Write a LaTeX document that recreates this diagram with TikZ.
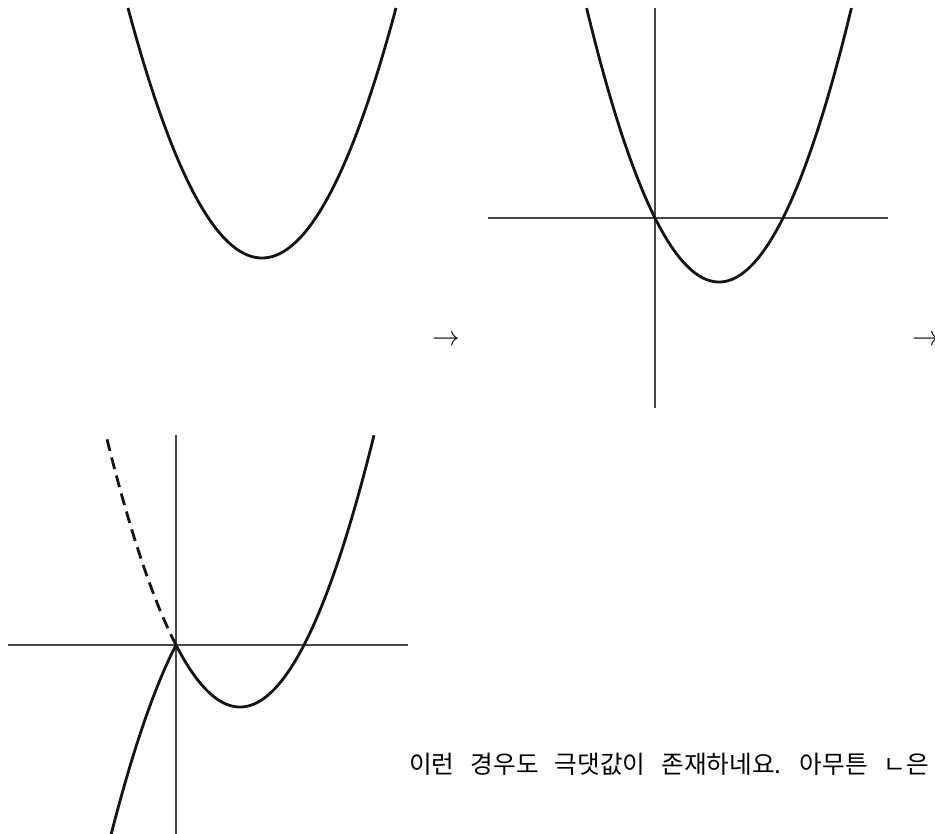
\documentclass[tikz,border=0pt]{standalone}
\usepackage{fontspec}
\newfontfamily\krfont{Noto Sans CJK KR}
\newcommand\widespaces{\spaceskip=12pt\relax}
\begin{document}
\begin{tikzpicture}[x=0.75pt,y=-0.75pt,
  curve/.style={line width=2.1pt,color=black!92},
  axis/.style={line width=1.8pt,color=black!72},
  dashcurve/.style={curve,dash pattern=on 9pt off 5pt},
  arrowsym/.style={inner sep=0pt,font=\fontsize{20}{24}\selectfont},
  caption/.style={inner sep=0pt,anchor=west,font=\krfont\fontsize{18.5}{22}\selectfont}]
\useasboundingbox[fill=white] (0,0) rectangle (935,834);
% panel 1
\draw[curve] plot[domain=128:396,samples=120] (\x,{258-139.23*((\x-262)/100)^2});
% panel 2
\draw[axis] (655,8) -- (655,408);
\draw[axis] (488,218) -- (888,218);
\draw[curve] plot[domain=586.6:851.4,samples=140] (\x,{282-156.25*((\x-719)/100)^2});
% arrows
\node[arrowsym] (arrA) at (446,340) {$\rightarrow$};
\node[arrowsym] (arrB) at (926,340) {$\rightarrow$};
% panel 3
\draw[axis] (176,435) -- (176,834);
\draw[axis] (8,645) -- (408,645);
\draw[curve] plot[domain=176:374,samples=120] (\x,{707-151.37*((\x-240)/100)^2});
\draw[dashcurve] plot[domain=176:106,samples=60] (\x,{707-151.37*((\x-240)/100)^2});
\draw[curve] plot[domain=111.2:176,samples=80] (\x,{583+151.37*((\x-240)/100)^2});
% text
\node[caption] (txt) at (409,764) {\widespaces 이런 경우도 극댓값이 존재하네요. 아무튼 ㄴ은};
\end{tikzpicture}
\end{document}
